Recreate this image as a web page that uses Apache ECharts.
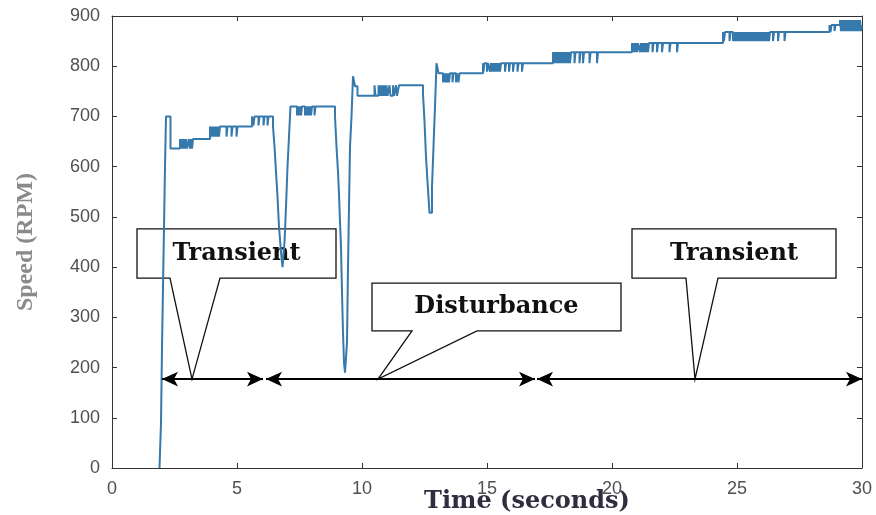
<!DOCTYPE html>
<html lang="en" style="height: 100%">
<head>
  <meta charset="utf-8">
</head>
<body style="height: 100%; margin: 0; background: #fff">
  <div id="container" style="width: 876px; height: 515px"></div>

  <script type="text/javascript" src="https://cdn.jsdelivr.net/npm/echarts@6/dist/echarts.min.js"></script>

  <script type="text/javascript">
    // speed trace: [time s, speed rpm], value holds until the next point
    var speedTrace = [
      // start-up
      [1.90, 0], [1.96, 90], [2.00, 240], [2.04, 360], [2.08, 480], [2.12, 600], [2.16, 700], [2.34, 636],
      [2.72, 655], [2.76, 636], [2.80, 655], [2.84, 636], [2.88, 655], [2.92, 636], [2.96, 655], [3.00, 636],
      [3.08, 655], [3.12, 636], [3.16, 655], [3.20, 636], [3.24, 655],
      [3.92, 680], [3.96, 660], [4.00, 680], [4.04, 660], [4.08, 680], [4.12, 660], [4.16, 680], [4.20, 660],
      [4.24, 680], [4.28, 660], [4.32, 680], [4.58, 660], [4.62, 680], [4.78, 660], [4.82, 680], [4.98, 660], [5.02, 680],
      [5.60, 700], [5.66, 682], [5.70, 700], [5.86, 682], [5.90, 700], [6.06, 682], [6.10, 700], [6.22, 682], [6.26, 700],
      // first dip
      [6.44, 680], [6.50, 640], [6.56, 590], [6.62, 540], [6.68, 480], [6.76, 430], [6.82, 400],
      [6.90, 450], [6.96, 520], [7.02, 600], [7.08, 660], [7.14, 720],
      [7.40, 702], [7.44, 720], [7.48, 702], [7.52, 720], [7.56, 702], [7.60, 720], [7.72, 702], [7.76, 720],
      [7.80, 702], [7.84, 720], [7.88, 702], [7.92, 720], [7.96, 702], [8.00, 720], [8.10, 702], [8.14, 720],
      // deep dip
      [8.92, 700], [8.98, 640], [9.04, 590], [9.08, 545], [9.12, 490], [9.16, 440], [9.20, 350], [9.24, 270],
      [9.28, 210], [9.32, 190], [9.40, 250], [9.44, 400], [9.48, 520], [9.52, 640], [9.58, 700], [9.64, 780],
      [9.72, 760], [9.82, 741],
      [10.50, 762], [10.54, 741], [10.66, 762], [10.70, 741], [10.74, 762], [10.78, 741], [10.82, 762], [10.86, 741],
      [10.90, 762], [10.94, 741], [10.98, 762], [11.02, 741], [11.10, 762], [11.14, 741], [11.24, 762], [11.28, 741],
      [11.36, 762], [11.40, 741], [11.48, 762],
      // third dip
      [12.44, 745], [12.50, 690], [12.56, 620], [12.62, 570], [12.70, 508], [12.80, 560], [12.86, 640], [12.92, 720],
      [12.98, 806], [13.06, 786],
      [13.24, 768], [13.28, 786], [13.32, 768], [13.36, 786], [13.40, 768], [13.44, 786], [13.48, 768], [13.52, 786],
      [13.62, 768], [13.66, 786], [13.76, 768], [13.80, 786], [13.86, 768], [13.90, 786],
      // slow climb
      [14.84, 806], [14.86, 789], [14.90, 806], [15.00, 789], [15.04, 806], [15.12, 789], [15.16, 806], [15.20, 789],
      [15.24, 806], [15.28, 789], [15.32, 806], [15.36, 789], [15.40, 806], [15.44, 789], [15.48, 806], [15.52, 789],
      [15.56, 806], [15.72, 789], [15.76, 806], [15.88, 789], [15.92, 806], [16.04, 789], [16.08, 806], [16.22, 789],
      [16.26, 806], [16.40, 789], [16.44, 806],
      [17.64, 828], [17.68, 806], [17.72, 828], [17.76, 806], [17.80, 828], [17.84, 806], [17.88, 828], [17.92, 806],
      [17.96, 828], [18.00, 806], [18.04, 828], [18.08, 806], [18.12, 828], [18.16, 806], [18.20, 828], [18.24, 806],
      [18.28, 828], [18.32, 806], [18.36, 828], [18.50, 806], [18.54, 828], [18.70, 806], [18.74, 828], [18.84, 806],
      [18.88, 828], [19.10, 806], [19.14, 828], [19.40, 806], [19.44, 828],
      [20.80, 846], [20.84, 828], [20.88, 846], [20.92, 828], [20.96, 846], [21.00, 828], [21.04, 846], [21.12, 828],
      [21.16, 846], [21.20, 828], [21.24, 846], [21.28, 828], [21.32, 846], [21.36, 828], [21.40, 846], [21.44, 828],
      [21.48, 846], [21.62, 828], [21.66, 846], [21.80, 828], [21.84, 846], [22.00, 828], [22.04, 846], [22.30, 828],
      [22.34, 846], [22.60, 828], [22.64, 846],
      [24.44, 868], [24.48, 850], [24.52, 868], [24.70, 850], [24.74, 868], [24.84, 850], [24.88, 868], [24.92, 850],
      [24.96, 868], [25.00, 850], [25.04, 868], [25.08, 850], [25.12, 868], [25.16, 850], [25.20, 868], [25.24, 850],
      [25.28, 868], [25.32, 850], [25.36, 868], [25.40, 850], [25.44, 868], [25.48, 850], [25.52, 868], [25.56, 850],
      [25.60, 868], [25.64, 850], [25.68, 868], [25.72, 850], [25.76, 868], [25.80, 850], [25.84, 868], [25.88, 850],
      [25.92, 868], [25.96, 850], [26.00, 868], [26.04, 850], [26.08, 868], [26.12, 850], [26.16, 868], [26.20, 850],
      [26.24, 868], [26.28, 850], [26.32, 868], [26.44, 850], [26.48, 868], [26.64, 850], [26.68, 868], [26.90, 850],
      [26.94, 868],
      [28.70, 882], [28.74, 868], [28.78, 882], [28.90, 870], [28.94, 882], [29.12, 892], [29.16, 870], [29.20, 892],
      [29.24, 870], [29.28, 892], [29.32, 870], [29.36, 892], [29.40, 870], [29.44, 892], [29.48, 870], [29.52, 892],
      [29.56, 870], [29.60, 892], [29.64, 870], [29.68, 892], [29.72, 870], [29.76, 892], [29.80, 870], [29.84, 892],
      [29.88, 870], [29.92, 892], [29.96, 870], [30.00, 882]
    ];

    // axis ranges
    var xMax = 30, xStep = 5;
    var yMax = 900, yStep = 100;

    // annotation texts and the time spans of the double arrows
    var calloutTexts = ['Transient', 'Disturbance', 'Transient'];
    var arrowSpans = [[2.0, 6.04], [6.16, 16.92], [17.0, 30]];
    var arrowLevel = 177;

    // callout geometry in data units: box t1, v1, t2, v2, pointer base ta, tb, tip t, v
    var calloutShapes = [
      [1.0, 476, 8.96, 378, 2.32, 4.32, 3.2, arrowLevel],
      [10.4, 368, 20.36, 273, 12.0, 14.6, 10.64, arrowLevel],
      [20.8, 476, 28.96, 378, 22.96, 24.24, 23.32, arrowLevel]
    ];

    var dom = document.getElementById('container');
    var myChart = echarts.init(dom, null, { renderer: 'canvas' });

    var tickLabel = { color: '#505050', fontFamily: 'Liberation Sans', fontSize: 18 };
    var axisLine = { show: true, onZero: false, lineStyle: { color: '#333', width: 1 } };
    var axisTick = { show: true, inside: true, length: 5, lineStyle: { color: '#333' } };

    var option = {
      animation: false,
      backgroundColor: '#fff',
      grid: { left: 112, right: 14, top: 16, bottom: 47, containLabel: false, outerBoundsMode: 'none' },
      xAxis: [
        {
          type: 'value', min: 0, max: xMax, interval: xStep,
          axisLine: axisLine,
          axisTick: axisTick,
          axisLabel: Object.assign({ margin: 12 }, tickLabel),
          splitLine: { show: false },
          name: 'Time (seconds)',
          nameLocation: 'middle',
          nameGap: 22,
          nameMoveOverlap: false,
          nameTextStyle: {
            fontFamily: 'DejaVu Serif', fontWeight: 'bold', fontSize: 24,
            color: '#2e2e40', padding: [0, 0, 0, 80]
          }
        },
        {
          type: 'value', position: 'top', min: 0, max: xMax, interval: xStep,
          axisLine: axisLine,
          axisTick: axisTick,
          axisLabel: { show: false },
          splitLine: { show: false }
        }
      ],
      yAxis: [
        {
          type: 'value', min: 0, max: yMax, interval: yStep,
          axisLine: axisLine,
          axisTick: axisTick,
          axisLabel: Object.assign({ margin: 12 }, tickLabel),
          splitLine: { show: false },
          name: 'Speed (RPM)',
          nameLocation: 'middle',
          nameGap: 74,
          nameMoveOverlap: false,
          nameTextStyle: {
            fontFamily: 'Liberation Serif', fontWeight: 'bold', fontSize: 24,
            color: '#8a8a8a'
          }
        },
        {
          type: 'value', position: 'right', min: 0, max: yMax, interval: yStep,
          axisLine: axisLine,
          axisTick: axisTick,
          axisLabel: { show: false },
          splitLine: { show: false }
        }
      ],
      series: [
        {
          name: 'Speed',
          type: 'line',
          step: 'end',
          data: speedTrace,
          showSymbol: false,
          lineStyle: { color: '#3579ad', width: 2 },
          markLine: {
            silent: true,
            symbol: ['arrow', 'arrow'],
            symbolSize: [11, 16],
            label: { show: false },
            lineStyle: { color: '#000', width: 2, type: 'solid' },
            data: arrowSpans.map(function (s) {
              return [{ coord: [s[0], arrowLevel] }, { coord: [s[1], arrowLevel] }];
            })
          }
        },
        {
          name: 'callouts',
          type: 'custom',
          clip: false,
          silent: true,
          data: calloutShapes,
          renderItem: function (params, api) {
            var c = calloutShapes[params.dataIndex];
            var tl = api.coord([c[0], c[1]]);
            var br = api.coord([c[2], c[3]]);
            var ba = api.coord([c[4], c[3]]);
            var bb = api.coord([c[5], c[3]]);
            var tip = api.coord([c[6], c[7]]);
            return {
              type: 'group',
              children: [
                {
                  type: 'polygon',
                  shape: {
                    points: [
                      [tl[0], tl[1]], [br[0], tl[1]], [br[0], br[1]],
                      [bb[0], br[1]], tip, [ba[0], br[1]], [tl[0], br[1]]
                    ]
                  },
                  style: { fill: null, stroke: '#111', lineWidth: 1.3 }
                },
                {
                  type: 'text',
                  style: {
                    text: calloutTexts[params.dataIndex],
                    x: (tl[0] + br[0]) / 2,
                    y: (tl[1] + br[1]) / 2,
                    align: 'center',
                    verticalAlign: 'middle',
                    font: 'bold 24px "DejaVu Serif"',
                    fill: '#111'
                  }
                }
              ]
            };
          }
        }
      ]
    };

    myChart.setOption(option);
    window.addEventListener('resize', myChart.resize);
  </script>
</body>
</html>
